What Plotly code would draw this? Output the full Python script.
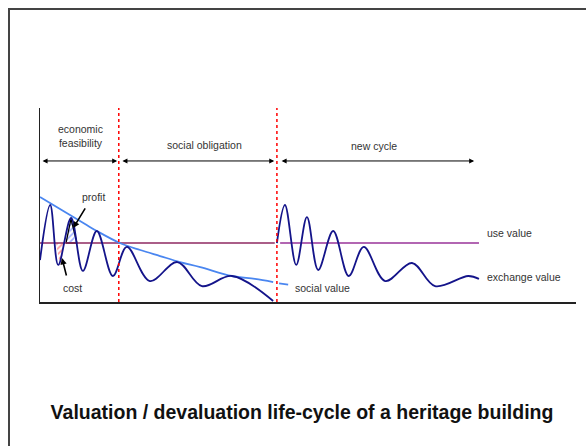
import plotly.graph_objects as go

# ---- data (time 0..100, value 0..100) ----
exch1_t = [0, 1.9, 3.4, 5.8, 8.0, 10.6, 13.6, 16.2, 20.5, 25.6, 30.2, 35.8, 43.5]
exch1_v = [21.6, 50.0, 19.1, 43.3, 16.0, 36.6, 13.4, 28.4, 10.8, 20.6, 8.2, 13.4, 0.5]

exch2_t = [44.2, 45.7, 47.8, 49.8, 51.9, 54.7, 57.6, 60.4, 64.4, 69.4, 73.7, 79.9, 81.9]
exch2_v = [30.4, 50.0, 19.1, 43.8, 16.5, 36.6, 13.4, 28.4, 10.8, 20.1, 8.2, 13.4, 11.9]

social_t = [0, 2.8, 5.6, 8.4, 10.6, 14.9, 18.7, 22.4, 26.1, 29.9, 35.8, 40.1, 43.5]
social_v = [54.1, 49.5, 44.8, 40.2, 36.6, 30.4, 26.8, 23.7, 20.6, 18.0, 13.4, 11.9, 10.3]
social_tail_t = [44.6, 46.3]
social_tail_v = [9.6, 9.0]

use_value = 30.4
use1_t = [0, 43.8]
use2_t = [44.8, 81.9]

phase_t = [14.7, 44.2]          # red dotted phase boundaries
phase_span = [0, 100]

profit_t = [4.85, 5.78, 6.9, 4.85]
profit_v = [30.4, 42.8, 30.4, 30.4]
cost_t = [3.0, 3.4, 3.7, 4.1, 4.5, 3.0]
cost_v = [30.4, 23.2, 19.1, 23.2, 30.4, 30.4]

phase_arrow_v = 72.7
phase_arrows = [(0.2, 14.4), (15.1, 43.7), (44.8, 81.0)]

FONT = "Arial, Liberation Sans, sans-serif"
TXT = "#333333"

fig = go.Figure()

# hatched areas
fig.add_trace(go.Scatter(x=cost_t, y=cost_v, mode="lines", line=dict(width=0, color="red"),
                         fill="toself", fillcolor="rgba(0,0,0,0)",
                         fillpattern=dict(shape="/", fgcolor="#ff3030", bgcolor="white", size=4, solidity=0.4)))
fig.add_trace(go.Scatter(x=profit_t, y=profit_v, mode="lines", line=dict(width=1.3, color="black"),
                         fill="toself", fillcolor="rgba(0,0,0,0)",
                         fillpattern=dict(shape="/", fgcolor="#4060ff", bgcolor="white", size=4, solidity=0.4)))

# use value
fig.add_trace(go.Scatter(x=use1_t, y=[use_value] * 2, mode="lines", line=dict(color="#8e2860", width=1.6)))
fig.add_trace(go.Scatter(x=use2_t, y=[use_value] * 2, mode="lines", line=dict(color="#993399", width=1.6)))

# social value
fig.add_trace(go.Scatter(x=social_t, y=social_v, mode="lines", line=dict(color="#4a86f0", width=1.8, shape="spline")))
fig.add_trace(go.Scatter(x=social_tail_t, y=social_tail_v, mode="lines", line=dict(color="#4a86f0", width=1.8)))

# exchange value
for t, v in [(exch1_t, exch1_v), (exch2_t, exch2_v)]:
    fig.add_trace(go.Scatter(x=t, y=v, mode="lines",
                             line=dict(color="#14148a", width=1.8, shape="spline", smoothing=1.0)))

# red dotted phase boundaries
for pt in phase_t:
    fig.add_trace(go.Scatter(x=[pt, pt], y=phase_span, mode="lines",
                             line=dict(color="#ff0000", width=1.5, dash="dot")))

# phase arrows
for a, b in phase_arrows:
    fig.add_annotation(x=b, y=phase_arrow_v, ax=a, ay=phase_arrow_v, xref="x", yref="y",
                       axref="x", ayref="y", text="", showarrow=True, arrowhead=2,
                       arrowside="end+start", arrowsize=1, arrowwidth=1, arrowcolor="black")

# profit / cost pointers
fig.add_annotation(x=6.2, y=38.1, ax=8.6, ay=49.0, xref="x", yref="y", axref="x", ayref="y",
                   text="", showarrow=True, arrowhead=2, arrowsize=0.8, arrowwidth=1.6, arrowcolor="black")
fig.add_annotation(x=4.1, y=22.7, ax=5.0, ay=12.9, xref="x", yref="y", axref="x", ayref="y",
                   text="", showarrow=True, arrowhead=2, arrowsize=0.8, arrowwidth=1.6, arrowcolor="black")

labels = [
    ("economic<br>feasibility", 7.6, 85.6, "center"),
    ("social obligation", 30.7, 80.9, "center"),
    ("new cycle", 62.3, 80.4, "center"),
    ("profit", 9.9, 54.1, "center"),
    ("cost", 6.0, 7.2, "center"),
    ("use value", 83.0, 35.6, "left"),
    ("exchange value", 83.0, 12.9, "left"),
    ("social value", 47.2, 7.2, "left"),
    ("redevelopment", 44.2, -7.7, "center"),
]
for text, x, y, anc in labels:
    fig.add_annotation(x=x, y=y, xref="x", yref="y", text=text, showarrow=False,
                       xanchor=anc, yanchor="middle", font=dict(family=FONT, size=10.5, color=TXT))

fig.add_annotation(x=97.4, y=-5.2, xref="x", yref="y", text="<b>time</b>", showarrow=False,
                   font=dict(family=FONT, size=10, color="#222"))
fig.add_annotation(x=-1.5, y=93.8, xref="x", yref="y", text="<b>value</b>", showarrow=False,
                   textangle=-90, font=dict(family=FONT, size=10, color="#222"))

# outer frame
fig.add_shape(type="rect", xref="paper", yref="paper", x0=9 / 586, x1=1.05, y0=-0.05, y1=1 - 9 / 446,
              line=dict(color="#444444", width=2), fillcolor="rgba(0,0,0,0)", layer="below")

fig.update_layout(
    width=586, height=446, margin=dict(l=0, r=0, t=0, b=0),
    paper_bgcolor="white", plot_bgcolor="white", showlegend=False,
    title=dict(text="<b>Valuation / devaluation life-cycle of a heritage building</b>",
               x=302 / 586, xanchor="center", y=1 - 412 / 446, yanchor="middle",
               font=dict(family=FONT, size=19.5, color="#111")),
    xaxis=dict(range=[0, 100], domain=[40 / 586, 576 / 586], showline=True, linecolor="#222",
               linewidth=1.5, showgrid=False, zeroline=False, showticklabels=False, ticks=""),
    yaxis=dict(range=[0, 100], domain=[(446 - 302) / 446, (446 - 108) / 446], showline=True,
               linecolor="#222", linewidth=1.5, showgrid=False, zeroline=False,
               showticklabels=False, ticks=""),
)

fig.write_html("out.html", config={"displayModeBar": False, "staticPlot": True},
               post_script="document.body.style.margin='0px';document.body.style.overflow='hidden';")
